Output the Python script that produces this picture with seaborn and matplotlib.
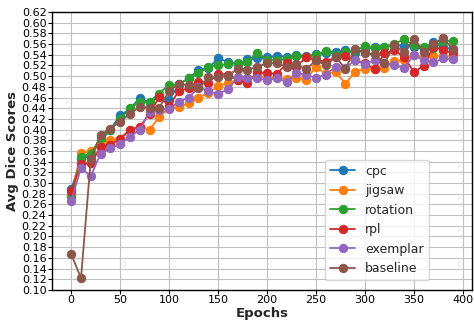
import numpy as np
import pandas as pd
import matplotlib
matplotlib.use("Agg")
import matplotlib.pyplot as plt
import seaborn as sns

epochs = list(range(0, 400, 10))

cpc = [0.288, 0.345, 0.352, 0.378, 0.400, 0.427, 0.438, 0.460, 0.450, 0.462,
       0.455, 0.485, 0.496, 0.511, 0.515, 0.533, 0.527, 0.522, 0.532, 0.533,
       0.535, 0.538, 0.536, 0.540, 0.537, 0.541, 0.543, 0.546, 0.548, 0.543,
       0.550, 0.555, 0.554, 0.559, 0.556, 0.555, 0.550, 0.563, 0.555, 0.550]
jigsaw = [0.278, 0.357, 0.360, 0.372, 0.380, 0.383, 0.400, 0.405, 0.400, 0.424,
          0.440, 0.442, 0.449, 0.459, 0.469, 0.481, 0.488, 0.492, 0.497, 0.500,
          0.497, 0.498, 0.494, 0.497, 0.493, 0.518, 0.504, 0.508, 0.486, 0.508,
          0.514, 0.513, 0.516, 0.528, 0.530, 0.540, 0.535, 0.538, 0.538, 0.538]
rotation = [0.273, 0.349, 0.355, 0.385, 0.400, 0.420, 0.440, 0.452, 0.452, 0.4675,
            0.484, 0.483, 0.497, 0.505, 0.5175, 0.520, 0.523, 0.525, 0.527, 0.544,
            0.530, 0.530, 0.532, 0.5375, 0.535, 0.540, 0.547, 0.540, 0.545, 0.548,
            0.556, 0.552, 0.555, 0.560, 0.569, 0.558, 0.555, 0.553, 0.566, 0.566]
rpl = [0.286, 0.335, 0.337, 0.367, 0.372, 0.382, 0.400, 0.405, 0.430, 0.461,
       0.444, 0.4725, 0.477, 0.489, 0.488, 0.504, 0.503, 0.4925, 0.487, 0.507,
       0.506, 0.504, 0.524, 0.518, 0.535, 0.530, 0.527, 0.535, 0.5375, 0.530,
       0.524, 0.5125, 0.5425, 0.549, 0.535, 0.508, 0.519, 0.555, 0.549, 0.5425]
exemplar = [0.267, 0.328, 0.313, 0.355, 0.365, 0.373, 0.387, 0.399, 0.433, 0.436,
            0.439, 0.452, 0.460, 0.479, 0.4725, 0.466, 0.476, 0.4975, 0.497, 0.4956,
            0.4925, 0.496, 0.489, 0.506, 0.502, 0.497, 0.503, 0.5175, 0.515, 0.530,
            0.522, 0.530, 0.525, 0.520, 0.5156, 0.539, 0.530, 0.5256, 0.533, 0.532]
baseline = [0.1667, 0.122, 0.345, 0.390, 0.402, 0.415, 0.430, 0.4425, 0.441, 0.441,
            0.4725, 0.485, 0.483, 0.477, 0.4975, 0.4975, 0.501, 0.514, 0.512, 0.5175,
            0.525, 0.524, 0.5175, 0.522, 0.5125, 0.530, 0.520, 0.536, 0.514, 0.550,
            0.5425, 0.541, 0.524, 0.558, 0.5456, 0.569, 0.545, 0.561, 0.571, 0.550]

methods = ["cpc", "jigsaw", "rotation", "rpl", "exemplar", "baseline"]
series = [cpc, jigsaw, rotation, rpl, exemplar, baseline]

df = pd.DataFrame({
    "Epochs": epochs * len(methods),
    "Avg Dice Scores": sum(series, []),
    "method": sum([[m] * len(epochs) for m in methods], []),
})

sns.set_style("whitegrid", {"axes.edgecolor": "black", "grid.color": "#c0c0c0",
                            "xtick.bottom": True, "ytick.left": True})
plt.rcParams["font.family"] = ["DejaVu Sans"]

fig, ax = plt.subplots(figsize=(4.74, 3.2), dpi=100)
sns.lineplot(data=df, x="Epochs", y="Avg Dice Scores", hue="method",
             hue_order=methods, palette="tab10", marker="o", markersize=6,
             linewidth=1.3, ax=ax)
for ln in ax.lines:
    ln.set_markeredgecolor(ln.get_color())

ax.set_ylim(0.10, 0.62)
ax.set_yticks(np.arange(0.10, 0.621, 0.02))
ax.set_yticklabels([f"{v:.2f}" for v in np.arange(0.10, 0.621, 0.02)])
ax.set_xticks(range(0, 401, 50))
ax.tick_params(axis="both", labelsize=8, length=3, width=0.8, pad=1, colors="black")
ax.set_xlabel("Epochs", fontsize=9.5, fontweight="bold", labelpad=1)
ax.set_ylabel("Avg Dice Scores", fontsize=9.5, fontweight="bold", labelpad=2)
for s in ax.spines.values():
    s.set_linewidth(1.0)
    s.set_color("black")

leg = ax.legend(loc="lower left", bbox_to_anchor=(0.635, 0.012), fontsize=9,
                frameon=True, framealpha=0.8, borderpad=0.4, labelspacing=0.52,
                handlelength=2.0)
for h in leg.legend_handles:
    try:
        h.set_markeredgecolor(h.get_color())
    except Exception:
        pass

fig.subplots_adjust(left=0.11, right=0.996, top=0.9625, bottom=0.094)
fig.savefig("out.png", dpi=100)
